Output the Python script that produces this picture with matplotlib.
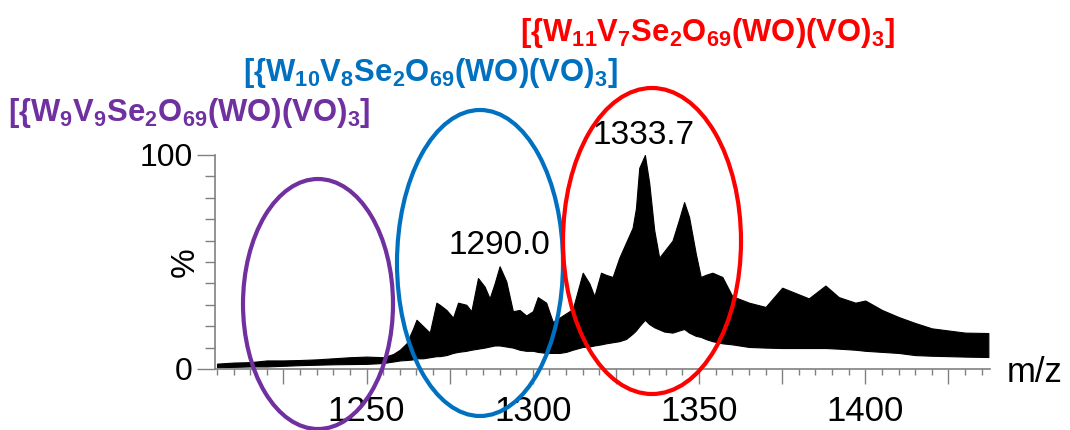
import matplotlib
matplotlib.use("Agg")
import matplotlib.pyplot as plt
from matplotlib.patches import Ellipse
from matplotlib.ticker import MultipleLocator, FuncFormatter

plt.rcParams["font.family"] = ["Liberation Sans", "DejaVu Sans"]
plt.rcParams["mathtext.fontset"] = "custom"
plt.rcParams["mathtext.rm"] = "Liberation Sans"
plt.rcParams["mathtext.bf"] = "Liberation Sans:bold"

# spectrum envelope (m/z, relative intensity %)
mz = [1205, 1210, 1215, 1220, 1225, 1230, 1235, 1240, 1245, 1250, 1255, 1258,
      1260, 1262, 1264, 1265, 1267, 1269, 1271, 1272, 1274, 1276, 1277.5, 1280,
      1281.5, 1283.5, 1285.5, 1287, 1288.5, 1290, 1292, 1294, 1296, 1298, 1300,
      1301.5, 1304, 1306, 1308, 1310, 1312, 1315, 1317, 1318.5, 1320.5, 1322,
      1324, 1326, 1328, 1330, 1331, 1332, 1333.7, 1335, 1336.5, 1338, 1339.5,
      1342, 1344, 1345.5, 1347, 1349, 1350.5, 1352, 1354, 1357, 1360, 1365,
      1370, 1375, 1379, 1383, 1388, 1392, 1397, 1400, 1405, 1410, 1415, 1420,
      1425, 1430, 1437]
upper = [2.5, 3, 3.2, 4, 4, 4.2, 4.5, 5, 5.5, 5.8, 5.5, 7,
         9, 12, 19, 23, 20, 17, 31, 30, 27.6, 24, 31, 30,
         27, 42.5, 38.5, 33, 40, 48, 41, 27, 27.6, 25, 27,
         33.6, 31, 22, 24, 26, 28, 45, 40, 34, 45, 44,
         43, 52, 59, 66, 75, 94, 100, 87, 65, 52, 55,
         60, 70, 78, 71, 54, 43, 44, 45, 43, 34, 31,
         29, 38, 35.5, 33, 39, 33.6, 31, 32, 27.6, 24.3, 21.5, 19,
         18, 17, 16.8]
lower = [0.8, 1, 1.2, 1.2, 1.5, 1.8, 2, 2.2, 2.3, 2.4, 2.8, 3.5,
         4, 4.2, 4.5, 5, 5, 5.5, 6, 6, 6.5, 7.5, 8, 8.5,
         9, 9.5, 10, 10.5, 11, 11, 10.5, 10, 9, 8.5, 8.5,
         8, 7.5, 7.5, 7.5, 8, 9, 10.3, 10.5, 11, 11.5, 12,
         12.5, 13, 14, 16.5, 18, 20, 23, 21, 19.5, 18.5, 17.5,
         17, 18, 18.7, 17, 15.5, 15, 14, 13, 12, 11.5, 10.3,
         10, 9.8, 9.8, 9.8, 9.8, 9.5, 9, 8.5, 8, 7.5, 6.5, 6.2,
         6, 5.8, 5.6]

peak_labels = ["1290.0", "1333.7"]
peak_pos = [(1289.9, 57.5), (1333.4, 109)]

species = [r"[{W$_{\mathbf{9}}$V$_{\mathbf{9}}$Se$_{\mathbf{2}}$O$_{\mathbf{69}}$(WO)(VO)$_{\mathbf{3}}$]",
           r"[{W$_{\mathbf{10}}$V$_{\mathbf{8}}$Se$_{\mathbf{2}}$O$_{\mathbf{69}}$(WO)(VO)$_{\mathbf{3}}$]",
           r"[{W$_{\mathbf{11}}$V$_{\mathbf{7}}$Se$_{\mathbf{2}}$O$_{\mathbf{69}}$(WO)(VO)$_{\mathbf{3}}$]"]
colors = ["#7030A0", "#0070C0", "#FF0000"]

W, H = 1070, 430
AXIS_GREY = "#808080"

fig = plt.figure(figsize=(W / 100, H / 100), dpi=100)
ax = fig.add_axes([215 / W, 1 - 369 / H, (990 - 215) / W, (369 - 155) / H])

ax.fill_between(mz, lower, upper, color="black", linewidth=0.8, edgecolor="black")

ax.set_xlim(1204.4, 1437.5)
ax.set_ylim(0, 100)

for s in ["top", "right"]:
    ax.spines[s].set_visible(False)
for s in ["left", "bottom"]:
    ax.spines[s].set_color(AXIS_GREY)
    ax.spines[s].set_linewidth(1.2)

ax.xaxis.set_major_locator(MultipleLocator(25))
ax.xaxis.set_minor_locator(MultipleLocator(5))
ax.xaxis.set_major_formatter(FuncFormatter(lambda v, p: f"{v:.0f}" if v % 50 == 0 else ""))
ax.yaxis.set_major_locator(MultipleLocator(100))
ax.yaxis.set_minor_locator(MultipleLocator(10))
ax.tick_params(axis="x", which="major", length=11, width=1, color=AXIS_GREY,
               labelsize=25, pad=8, direction="out")
ax.tick_params(axis="x", which="minor", length=4, width=1, color=AXIS_GREY, direction="out")
ax.tick_params(axis="y", which="major", length=13, width=1, color=AXIS_GREY,
               labelsize=23, pad=3, direction="out")
ax.tick_params(axis="y", which="minor", length=7, width=1, color=AXIS_GREY, direction="out")

fig.text(1007 / W, 1 - 372 / H, "m/z", fontsize=25, ha="left", va="center")
fig.text(185 / W, 1 - 262 / H, "%", fontsize=24, rotation=90, ha="center", va="center")

for lbl, (x, y) in zip(peak_labels, peak_pos):
    ax.text(x, y, lbl, fontsize=24, ha="center", va="center", clip_on=False)

# species labels and ellipses
label_xy = [(8, 121), (243, 81), (520, 41)]
ell = [(318, 304, 150, 250), (480, 263, 166, 306), (652, 241, 178, 306)]
for txt, c, (lx, ly), (cx, cy, ew, eh) in zip(species, colors, label_xy, ell):
    fig.text(lx / W, 1 - ly / H, txt, color=c, fontsize=22.3, fontweight="bold",
             ha="left", va="baseline")
    fig.add_artist(Ellipse((cx / W, 1 - cy / H), ew / W, eh / H, fill=False,
                           edgecolor=c, linewidth=3, transform=fig.transFigure))

fig.savefig("out.png", dpi=100)
